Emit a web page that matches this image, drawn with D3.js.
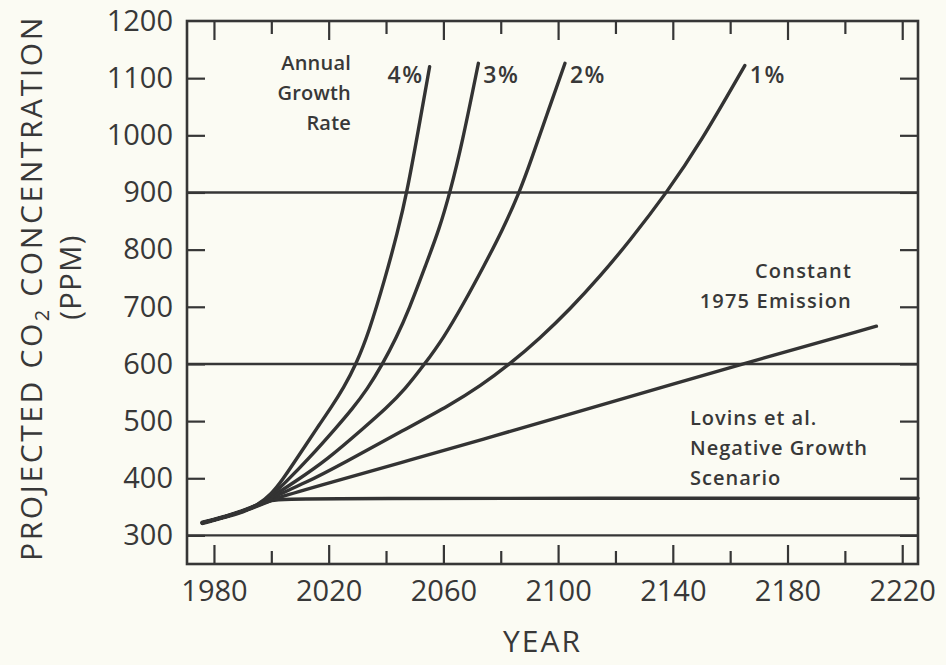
<!DOCTYPE html>
<html>
<head>
<meta charset="utf-8">
<script src="https://cdn.jsdelivr.net/npm/d3@7"></script>
<style>
  html, body { margin: 0; padding: 0; background: #fbfbf3; }
  svg { display: block; }
  text { font-family: "Open Sans", "DejaVu Sans", sans-serif; fill: #383838; }
</style>
</head>
<body>
<svg id="chart" width="946" height="665"></svg>
<script>
// Projected CO2 concentration (ppm) by year, per emission scenario.
const majorYears = [1980, 2020, 2060, 2100, 2140, 2180, 2220];
const minorYears = [2000, 2040, 2080, 2120, 2160, 2200];
const ppmTicks = [300, 400, 500, 600, 700, 800, 900, 1000, 1100, 1200];
const ppmGrid = [300, 600, 900];

// Shared early history before the scenarios diverge
const trunk = [[1976, 322], [1985, 334], [1990, 342], [1995, 352]];

const rate4 = [[2000, 372], [2004, 398], [2008, 428], [2012, 458], [2016.5, 492], [2021, 525],
  [2025.2, 558], [2029.6, 600], [2034, 655], [2039.7, 750], [2044, 830], [2047.3, 900],
  [2051.3, 1010], [2055.2, 1120]];
const rate3 = [[2000, 369], [2005, 393], [2013, 434], [2022.9, 490], [2028, 520], [2033.5, 556],
  [2038.8, 600], [2043.5, 645], [2048, 695], [2054, 775], [2058.5, 835], [2062.3, 900],
  [2066.5, 985], [2072.2, 1126]];
const rate2 = [[2000, 367], [2008, 393], [2019.4, 432], [2032.7, 490], [2040, 522], [2046.7, 556],
  [2053.5, 600], [2060, 645], [2067, 705], [2074.2, 772], [2080.5, 833], [2086.5, 900],
  [2090.5, 955], [2096, 1035], [2102.4, 1126]];
const rate1 = [[2000, 366], [2012, 392], [2025, 426], [2046.8, 486], [2062.3, 528], [2072.8, 561],
  [2083.2, 600], [2093.7, 645], [2104.2, 696], [2114.6, 753], [2125.1, 816], [2137.9, 900],
  [2149.4, 985], [2165.1, 1122]];
const constant1975 = [[2000, 363], [2020, 392], [2048.7, 432], [2076.3, 472], [2090.2, 492],
  [2167.5, 605], [2211, 666]];
const lovins = [[2000, 362], [2005, 365], [2225.5, 365]];

const rateLabels = ["4%", "3%", "2%", "1%"];

const svg = d3.select("#chart");
const W = 946, H = 665;
const margin = { top: 21, right: 28, bottom: 101, left: 187 };
const iw = W - margin.left - margin.right;
const ih = H - margin.top - margin.bottom;
const ink = "#363636";

const x = d3.scaleLinear().domain([1970.6, 2225.5]).range([0, iw]);
const y = d3.scaleLinear().domain([250, 1200]).range([ih, 0]);

const g = svg.append("g").attr("transform", `translate(${margin.left},${margin.top})`);

// Horizontal reference lines
g.selectAll("line.grid").data(ppmGrid).join("line")
  .attr("class", "grid")
  .attr("x1", 0).attr("x2", iw)
  .attr("y1", d => y(d)).attr("y2", d => y(d))
  .attr("stroke", ink).attr("stroke-width", 2.4);

// Axes with inward ticks on all four sides
function styleAxis(sel) {
  sel.select(".domain").remove();
  sel.selectAll(".tick line").attr("stroke", ink).attr("stroke-width", 2.2);
  sel.selectAll(".tick text").attr("fill", "#3a3a3a").attr("font-size", 29);
}

const yTickVals = ppmTicks.filter(v => v < 1200);
g.append("g")
  .call(d3.axisLeft(y).tickValues(yTickVals).tickSizeInner(-18).tickSizeOuter(0).tickPadding(14)
    .tickFormat(d3.format("d")))
  .call(styleAxis);
g.append("g")
  .call(d3.axisLeft(y).tickValues([1200]).tickSize(0).tickPadding(14).tickFormat(d3.format("d")))
  .call(styleAxis);
g.append("g").attr("transform", `translate(${iw},0)`)
  .call(d3.axisRight(y).tickValues(yTickVals).tickSizeInner(-18).tickSizeOuter(0).tickFormat(""))
  .call(styleAxis);

g.append("g").attr("transform", `translate(0,${ih})`)
  .call(d3.axisBottom(x).tickValues(majorYears).tickSizeInner(-19).tickSizeOuter(0).tickPadding(16)
    .tickFormat(d3.format("d")))
  .call(styleAxis);
g.append("g").attr("transform", `translate(0,${ih})`)
  .call(d3.axisBottom(x).tickValues(minorYears).tickSizeInner(-13).tickSizeOuter(0).tickFormat(""))
  .call(styleAxis);
g.append("g")
  .call(d3.axisTop(x).tickValues(majorYears).tickSizeInner(-19).tickSizeOuter(0).tickFormat(""))
  .call(styleAxis);
g.append("g")
  .call(d3.axisTop(x).tickValues(minorYears).tickSizeInner(-13).tickSizeOuter(0).tickFormat(""))
  .call(styleAxis);

// Plot frame
g.append("rect")
  .attr("x", 0).attr("y", 0).attr("width", iw).attr("height", ih)
  .attr("fill", "none").attr("stroke", ink).attr("stroke-width", 2.6);

// Scenario curves, smoothed with a B-spline through the read-off points
const line = d3.line()
  .x(d => x(d[0])).y(d => y(d[1]))
  .curve(d3.curveBasis);

const scenarios = [lovins, constant1975, rate1, rate2, rate3, rate4];
g.selectAll("path.scenario").data(scenarios).join("path")
  .attr("class", "scenario")
  .attr("d", d => line(trunk.concat(d)))
  .attr("fill", "none")
  .attr("stroke", "#333")
  .attr("stroke-width", 3.4)
  .attr("stroke-linecap", "round")
  .attr("stroke-linejoin", "round");

// Where all scenarios overlap, the bundled strokes read heavier
g.append("path")
  .attr("d", line(trunk.concat([lovins[0]])))
  .attr("fill", "none")
  .attr("stroke", "#333")
  .attr("stroke-width", 4.6)
  .attr("stroke-linecap", "round");

// Rate labels beside the curve ends
const rateEnds = [rate4, rate3, rate2, rate1].map(s => s[s.length - 1]);
g.selectAll("text.rate").data(rateLabels).join("text")
  .attr("class", "rate")
  .attr("x", (d, i) => i === 0 ? x(rateEnds[i][0]) - 6 : x(rateEnds[i][0]) + 5)
  .attr("y", 62)
  .attr("text-anchor", (d, i) => i === 0 ? "end" : "start")
  .attr("font-size", 23)
  .attr("font-weight", 600)
  .attr("letter-spacing", 1.5)
  .text(d => d);

// Text annotations
function block(lines, xPos, yStart, anchor, spacing) {
  const t = g.append("text")
    .attr("font-size", 20)
    .attr("font-weight", 600)
    .attr("letter-spacing", spacing)
    .attr("text-anchor", anchor);
  lines.forEach((s, i) => {
    t.append("tspan").attr("x", xPos).attr("y", yStart + i * 30).text(s);
  });
}
block(["Annual", "Growth", "Rate"], 164, 49, "end", 0.2);
block(["Constant", "1975 Emission"], 665, 257, "end", 1.2);
block(["Lovins et al.", "Negative Growth", "Scenario"], 503, 404, "start", 1);

// Axis titles
svg.append("text")
  .attr("x", margin.left + iw / 2 - 10).attr("y", 652)
  .attr("text-anchor", "middle")
  .attr("font-size", 30)
  .attr("letter-spacing", 2)
  .text("YEAR");

const yt = svg.append("text")
  .attr("transform", `translate(42,288) rotate(-90)`)
  .attr("text-anchor", "middle")
  .attr("font-size", 30)
  .attr("letter-spacing", 2.6);
yt.append("tspan").text("PROJECTED  CO");
yt.append("tspan").attr("font-size", 20).attr("dy", 7).text("2");
yt.append("tspan").attr("dy", -7).text(" CONCENTRATION");

svg.append("text")
  .attr("transform", `translate(81,277) rotate(-90)`)
  .attr("text-anchor", "middle")
  .attr("font-size", 29)
  .attr("letter-spacing", 1.5)
  .text("(PPM)");
</script>
</body>
</html>
